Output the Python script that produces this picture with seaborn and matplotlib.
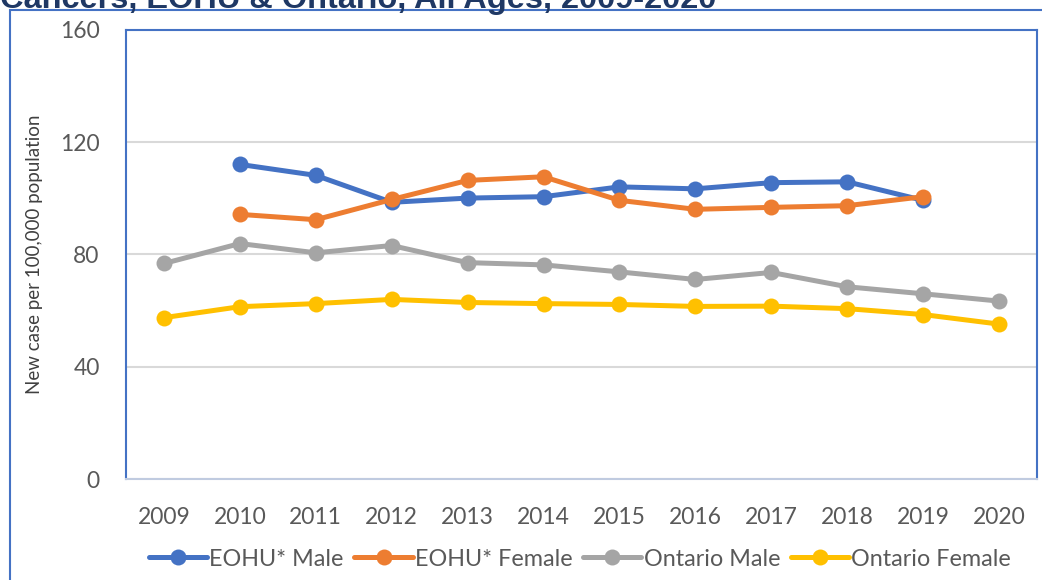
import matplotlib
matplotlib.use('Agg')
import matplotlib.pyplot as plt
import seaborn as sns
import pandas as pd
import numpy as np
from matplotlib.patches import Rectangle

# Data
years = list(range(2009, 2021))
eohu_male = [np.nan, 112.1, 108.2, 98.6, 100.1, 100.6, 104.1, 103.4, 105.6, 105.9, 99.3, np.nan]
eohu_female = [np.nan, 94.3, 92.4, 99.6, 106.4, 107.7, 99.3, 96.1, 96.8, 97.4, 100.6, np.nan]
ontario_male = [76.8, 83.9, 80.6, 83.2, 77.1, 76.3, 73.8, 71.1, 73.6, 68.5, 66.0, 63.4]
ontario_female = [57.5, 61.4, 62.5, 64.0, 62.9, 62.5, 62.2, 61.5, 61.6, 60.7, 58.6, 55.2]

series_names = ['EOHU* Male', 'EOHU* Female', 'Ontario Male', 'Ontario Female']
colors = ['#4472C4', '#ED7D31', '#A5A5A5', '#FFC000']

df = pd.DataFrame({'Year': years,
                   'EOHU* Male': eohu_male,
                   'EOHU* Female': eohu_female,
                   'Ontario Male': ontario_male,
                   'Ontario Female': ontario_female})
long_df = df.melt(id_vars='Year', var_name='Series', value_name='Rate').dropna()

sns.set_theme(style='white')
plt.rcParams['font.family'] = ['Lato', 'DejaVu Sans']

fig = plt.figure(figsize=(10.42, 5.8), dpi=100)
ax = fig.add_axes([126 / 1042, 1 - 479 / 580, 911 / 1042, 449 / 580])

sns.lineplot(data=long_df, x='Year', y='Rate', hue='Series', hue_order=series_names,
             palette=colors, marker='o', markersize=11.5, markeredgewidth=0,
             linewidth=3.6, ax=ax, legend=False)

ax.set_xlim(2008.5, 2020.5)
ax.set_ylim(0, 160)
ax.set_xticks(years)
ax.set_yticks([0, 40, 80, 120, 160])
ax.tick_params(axis='x', length=0, pad=20, labelsize=16.5, labelcolor='#595959')
ax.tick_params(axis='y', length=0, pad=19, labelsize=16.5, labelcolor='#595959')
ax.yaxis.grid(True, color='#D9D9D9', linewidth=1.5)
ax.set_axisbelow(True)
ax.set_xlabel('')
ax.set_ylabel('New case per 100,000 population', fontsize=13.5, color='#404040', labelpad=12)

for side in ['left', 'top', 'right']:
    ax.spines[side].set_color('#4472C4')
    ax.spines[side].set_linewidth(1.5)
ax.spines['bottom'].set_color('#C0CBE0')
ax.spines['bottom'].set_linewidth(1.5)

# Legend with line+marker handles
handles = [plt.Line2D([], [], color=c, linewidth=3.6, marker='o', markersize=11.5,
                      markeredgewidth=0) for c in colors]
fig.legend(handles, series_names, loc='center', bbox_to_anchor=(580 / 1042, 1 - 559 / 580),
           ncol=4, frameon=False, fontsize=16.8, labelcolor='#595959',
           handlelength=2.5, handletextpad=0.1, columnspacing=0.45)

# Outer chart border (partly cropped in the reference)
fig.patches.append(Rectangle((10 / 1042, -0.1), 1.2, 1 - 10 / 580 + 0.1,
                             transform=fig.transFigure, fill=False,
                             edgecolor='#4472C4', linewidth=1.5))

# Title, cut off at the top edge
fig.text(0.5 / 1042, 1 - 8 / 580, 'Cancers, EOHU & Ontario, All Ages, 2009-2020',
         family=['Liberation Sans', 'DejaVu Sans'], fontweight='bold', fontsize=23.4,
         color='#1F3864', ha='left', va='baseline')

fig.savefig('out.png', dpi=100)
